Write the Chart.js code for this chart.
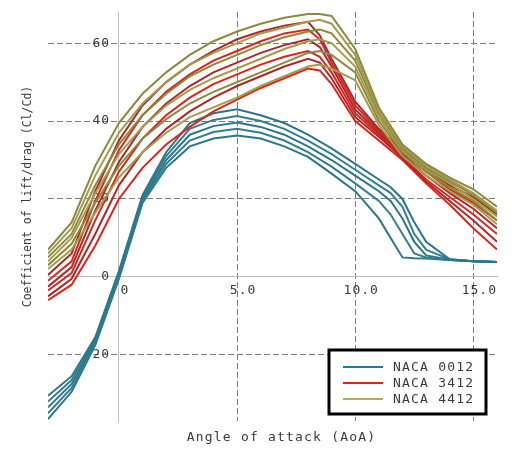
<!DOCTYPE html>
<html>
<head>
<meta charset="utf-8">
<script src="https://cdn.jsdelivr.net/npm/chart.js@4"></script>
<style>
    body { margin: 0; background: #fff; }
    canvas { display: block; }
</style>
</head>
<body>
<canvas id="aoa-chart" width="514" height="451"></canvas>
<script>
const seriesNames = ['NACA 0012', 'NACA 3412', 'NACA 4412'];
const xTitle = 'Angle of attack (AoA)';
const yTitle = 'Coefficient of lift/drag (Cl/Cd)';

const xTicks = [0, 5, 10, 15];
const xTickLabels = ['0', '5.0', '10.0', '15.0'];
const yTicks = [-20, 0, 20, 40, 60];
const yTickLabels = ['-20', '0', '20', '40', '60'];

// angle of attack samples
const tealAoa = [-3, -2, -1, 0, 1, 2, 3, 4, 5, 6, 7, 8, 9, 10, 11, 11.5, 12, 12.5, 13, 14, 15, 16];
const camberAoa = [-3, -2, -1, 0, 1, 2, 3, 4, 5, 6, 7, 8, 8.5, 9, 10, 11, 12, 13, 14, 15, 16];

// NACA 0012, one row per run
const naca0012 = [
    [-30.5, -25.5, -15.5, 1.5, 21, 32, 39.5, 42, 43, 41.5, 39.5, 36.5, 33, 29, 25, 23, 20, 14, 9, 4.5, 4, 3.8],
    [-32, -26.5, -16, 1, 20.5, 31, 38, 40.3, 41.3, 40, 38, 35, 31.5, 27.5, 23.5, 21.5, 18, 11, 7, 4.5, 4, 3.8],
    [-33.5, -27.5, -16.5, 0.5, 20, 30, 36.5, 38.7, 39.6, 38.5, 36.5, 33.5, 30, 26, 22, 19.5, 15, 9, 5.5, 4.4, 4, 3.8],
    [-35, -28.5, -17, 0, 19.5, 29, 35, 37.2, 38, 37, 35, 32, 28.3, 24, 19.5, 16, 11, 6, 5, 4.3, 4, 3.8],
    [-36.5, -29.5, -17.5, -0.5, 19, 28, 33.5, 35.5, 36.3, 35.5, 33.5, 30.8, 26.5, 22, 15, 10, 5, 4.8, 4.7, 4.3, 4, 3.8]
];

// NACA 3412
const naca3412 = [
    [0.5, 6, 22, 35, 44, 50, 54.5, 58, 61, 63, 64.5, 65.5, 62, 56, 45, 38, 32.5, 27.5, 23.5, 20.5, 16],
    [-1, 4, 19.5, 32.5, 41.5, 47.5, 52, 55.5, 58, 60.5, 62.5, 63.5, 61, 55, 44, 37.5, 32, 27, 22.5, 19, 14.5],
    [-2.5, 2.5, 17, 29.5, 38.5, 44.5, 49, 52.5, 55, 57.5, 59.5, 61, 59, 54, 43, 37, 31.5, 26, 21.5, 17.5, 12.5],
    [-3.5, 1, 14.5, 27, 35.5, 41.5, 46, 49.5, 52, 54.5, 56.5, 58, 56.5, 52.5, 42, 36.5, 31, 25, 20.5, 16, 11],
    [-5, -0.5, 11, 23.5, 32, 38, 42.5, 46, 49, 51.5, 54, 56, 55, 51, 41, 36, 30.5, 24.5, 19.5, 14.5, 9],
    [-6, -2, 8, 20, 28, 34, 38.5, 42.5, 45.5, 48.5, 51, 53.5, 53, 49.5, 40, 35, 30, 24, 18.5, 12.5, 7]
];

// NACA 4412
const naca4412 = [
    [7, 14, 28.5, 39.5, 47, 52.5, 57, 60.5, 63, 65, 66.5, 67.5, 67.5, 67, 58.5, 43.5, 34, 29, 25.5, 22.5, 18],
    [6, 12.5, 26, 37, 44.5, 50, 54.5, 57.5, 60, 62.5, 64, 65.5, 66, 65, 57, 42.5, 33.5, 28.5, 25, 21.5, 17],
    [5, 11, 23.5, 34, 41.5, 47, 51.5, 54.5, 57, 59.5, 61.5, 63, 63.5, 62.5, 55.5, 42, 33, 28, 24.5, 21, 16.5],
    [4, 10, 21.5, 31.5, 38.5, 44, 48, 51, 53.5, 56, 58.5, 60.5, 61, 60, 54, 41, 32.5, 27.5, 24, 20, 15.5],
    [3, 8.5, 19, 28.5, 35.5, 40.5, 44.5, 47.5, 50, 52.5, 55, 57.5, 58, 57, 52.5, 40, 32, 27, 23, 19.5, 14.5],
    [2, 7, 16.5, 25.5, 32, 37, 41, 43.5, 46, 49, 51.5, 54, 54.5, 53.5, 50.5, 39, 31, 26, 22, 18.5, 13.5]
];

const lineColors = [
    ['#2b7689', '#327f92'],
    ['#a8282e', '#de2419'],
    ['#8b8a3a', '#a69a4c']
];
const legendColors = ['#2a788c', '#e0221e', '#b8a66a'];

const monoFamily = '"DejaVu Sans Mono", monospace';
const textColor = '#3a3a3a';

function buildSets(curves, aoa, family, order) {
    return curves.map((vals, i) => ({
        label: seriesNames[family],
        data: vals.map((v, j) => ({ x: aoa[j], y: v })),
        borderColor: lineColors[family][i % 2],
        borderWidth: 2,
        pointRadius: 0,
        tension: 0,
        fill: false,
        order: order
    }));
}

const datasets = [
    ...buildSets(naca0012, tealAoa, 0, 2),
    ...buildSets(naca3412, camberAoa, 1, 1),
    ...buildSets(naca4412, camberAoa, 2, 0)
];

// axis titles and the boxed legend
const decorations = {
    id: 'decorations',
    beforeDraw(chart) {
        chart.ctx.letterSpacing = '1px';
    },
    afterDraw(chart) {
        const { ctx, chartArea } = chart;
        ctx.save();
        ctx.fillStyle = textColor;
        ctx.textAlign = 'center';
        ctx.textBaseline = 'middle';
        ctx.letterSpacing = '1.2px';
        ctx.font = '13px ' + monoFamily;
        ctx.fillText(xTitle, (chartArea.left + chartArea.right) / 2 + 9, chartArea.bottom + 17);

        ctx.save();
        ctx.letterSpacing = '0px';
        ctx.font = '11.5px ' + monoFamily;
        ctx.translate(28, (chartArea.top + chartArea.bottom) / 2 - 20);
        ctx.rotate(-Math.PI / 2);
        ctx.fillText(yTitle, 0, 0);
        ctx.restore();

        // legend box
        const boxW = 157, boxH = 64;
        const bx = chartArea.right - 11 - boxW;
        const by = chartArea.bottom - 7 - boxH;
        ctx.fillStyle = '#fff';
        ctx.fillRect(bx, by, boxW, boxH);
        ctx.lineWidth = 3;
        ctx.strokeStyle = '#000';
        ctx.strokeRect(bx, by, boxW, boxH);

        ctx.textAlign = 'left';
        ctx.font = '13px ' + monoFamily;
        seriesNames.forEach((name, i) => {
            const rowY = by + 17 + i * 16;
            ctx.beginPath();
            ctx.strokeStyle = legendColors[i];
            ctx.lineWidth = 2;
            ctx.moveTo(bx + 14, rowY);
            ctx.lineTo(bx + 54, rowY);
            ctx.stroke();
            ctx.fillStyle = textColor;
            ctx.fillText(name, bx + 64, rowY + 1);
        });
        ctx.restore();
    }
};

const ctx = document.getElementById('aoa-chart');

new Chart(ctx, {
    type: 'line',
    data: { datasets: datasets },
    plugins: [decorations],
    options: {
        responsive: false,
        animation: false,
        events: [],
        layout: { padding: { left: 48, right: 17, top: 12, bottom: 30 } },
        plugins: {
            legend: { display: false },
            tooltip: { enabled: false }
        },
        scales: {
            x: {
                type: 'linear',
                min: -3,
                max: 16,
                position: { y: 0 },
                afterBuildTicks: (axis) => {
                    axis.ticks = xTicks.map((v) => ({ value: v }));
                },
                grid: {
                    color: (c) => (c.tick && c.tick.value === 0 ? 'rgba(0,0,0,0)' : '#7d7d7d'),
                    lineWidth: 1,
                    drawTicks: false
                },
                border: { display: true, color: '#bdbdbd', width: 1, dash: [6, 3] },
                ticks: {
                    callback: (v) => xTickLabels[xTicks.indexOf(v)],
                    font: { family: monoFamily, size: 13 },
                    color: textColor,
                    padding: 6,
                    labelOffset: 6,
                    maxRotation: 0,
                    autoSkip: false
                }
            },
            y: {
                type: 'linear',
                min: -37,
                max: 68,
                position: { x: 0 },
                afterBuildTicks: (axis) => {
                    axis.ticks = yTicks.map((v) => ({ value: v }));
                },
                grid: {
                    color: (c) => (c.tick && c.tick.value === 0 ? 'rgba(0,0,0,0)' : '#7d7d7d'),
                    lineWidth: 1,
                    drawTicks: false
                },
                border: { display: true, color: '#bdbdbd', width: 1, dash: [6, 3] },
                ticks: {
                    callback: (v) => yTickLabels[yTicks.indexOf(v)] + ' ',
                    font: { family: monoFamily, size: 13 },
                    color: textColor,
                    autoSkip: false
                }
            }
        }
    }
});
</script>
</body>
</html>
